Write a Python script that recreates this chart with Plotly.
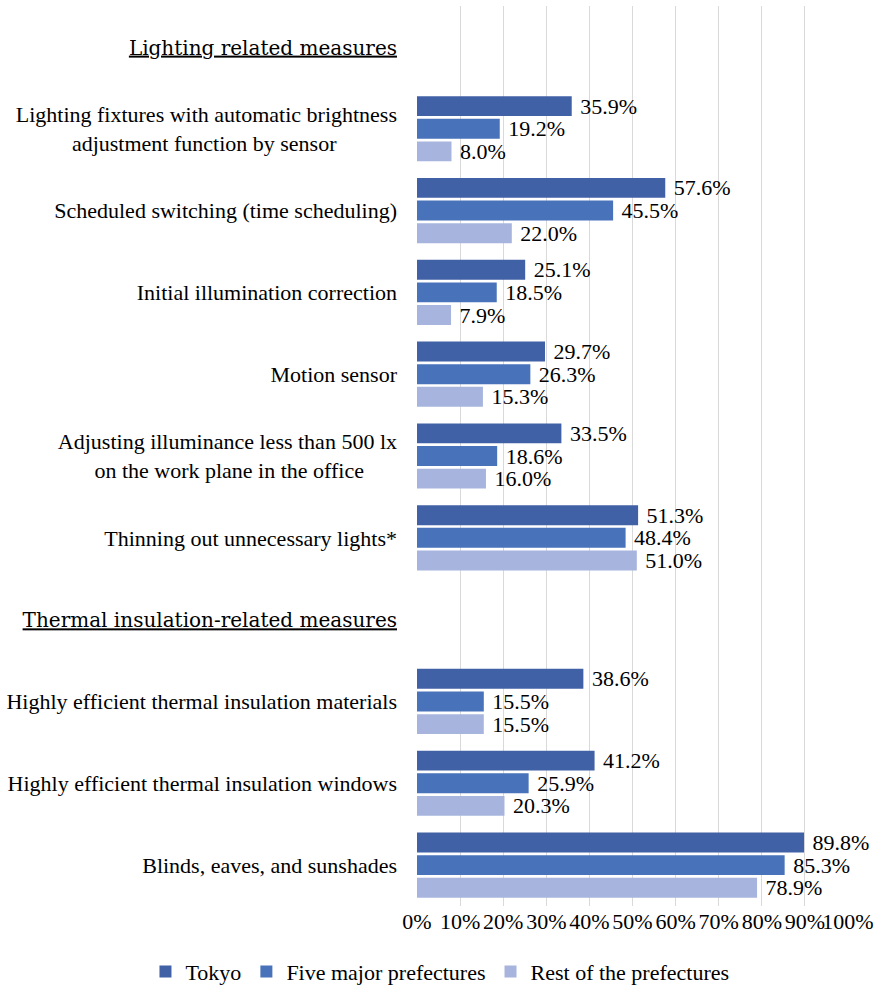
import plotly.graph_objects as go

categories = [
    "Lighting related measures",
    "Lighting fixtures with automatic brightness<br>adjustment function by sensor",
    "Scheduled switching (time scheduling)",
    "Initial illumination correction",
    "Motion sensor",
    "Adjusting illuminance less than 500 lx<br>on the work plane in the office",
    "Thinning out unnecessary lights*",
    "Thermal insulation-related measures",
    "Highly efficient thermal insulation materials",
    "Highly efficient thermal insulation windows",
    "Blinds, eaves, and sunshades",
]
headers = ["Lighting related measures", "Thermal insulation-related measures"]

tokyo = [None, 35.9, 57.6, 25.1, 29.7, 33.5, 51.3, None, 38.6, 41.2, 89.8]
five_major = [None, 19.2, 45.5, 18.5, 26.3, 18.6, 48.4, None, 15.5, 25.9, 85.3]
rest = [None, 8.0, 22.0, 7.9, 15.3, 16.0, 51.0, None, 15.5, 20.3, 78.9]

series_names = ["Tokyo", "Five major prefectures", "Rest of the prefectures"]
series_values = [tokyo, five_major, rest]
colors = ["#4161A6", "#4872B9", "#A7B5DE"]

x_tickvals = [0, 10, 20, 30, 40, 50, 60, 70, 80, 90, 100]
x_ticktext = ["0%", "10%", "20%", "30%", "40%", "50%", "60%", "70%", "80%", "90%", "100%"]

SERIF = "Liberation Serif"
NBSP = "\u00a0"
FS = 22

# second-line shift so wrapped labels look centered (like the original)
second_line_pad = {1: 11, 5: 6}


def fmt_label(i, c):
    if c in headers:
        return ('<span style="font-family:DejaVu Serif;font-size:20px">'
                '<u>' + c + '</u></span>')
    if i in second_line_pad and "<br>" in c:
        a, b = c.split("<br>")
        return a + "<br>" + b + NBSP * second_line_pad[i]
    return c


ticktext = [fmt_label(i, c) for i, c in enumerate(categories)]

fig = go.Figure()
for name, vals, col in zip(series_names, series_values, colors):
    fig.add_trace(go.Bar(
        y=categories,
        x=vals,
        name=name,
        orientation="h",
        marker=dict(color=col, line=dict(width=0)),
        text=[(NBSP + f"{v:.1f}%") if v is not None else "" for v in vals],
        textposition="outside",
        textfont=dict(family=SERIF, size=FS, color="black"),
        constraintext="none",
        cliponaxis=False,
        hoverinfo="skip",
    ))

fig.update_layout(
    width=878,
    height=985,
    barmode="group",
    bargap=0.17,
    bargroupgap=0.12,
    paper_bgcolor="white",
    plot_bgcolor="white",
    margin=dict(l=417, r=30, t=6, b=79, autoexpand=False),
    font=dict(family=SERIF, size=FS, color="black"),
    showlegend=True,
    legend=dict(
        orientation="h",
        x=-0.63, xanchor="left",
        y=-0.0497, yanchor="top",
        font=dict(family=SERIF, size=FS, color="black"),
        traceorder="normal",
    ),
    xaxis=dict(
        range=[0, 100],
        tickvals=x_tickvals,
        ticktext=x_ticktext,
        tickangle=0,
        showgrid=True,
        gridcolor="#D9D9D9",
        gridwidth=1,
        zeroline=False,
        showline=False,
        ticks="",
        tickfont=dict(family=SERIF, size=FS, color="black"),
        automargin=False,
        fixedrange=True,
    ),
    yaxis=dict(
        categoryorder="array",
        categoryarray=categories,
        tickvals=categories,
        ticktext=ticktext,
        autorange="reversed",
        showgrid=False,
        zeroline=False,
        showline=False,
        ticks="",
        ticklabelstandoff=19,
        tickfont=dict(family=SERIF, size=FS, color="black"),
        automargin=False,
        fixedrange=True,
    ),
)

# remove the default 8px page margin so the figure fills the window exactly
fig.write_html(
    "out.html",
    config={"displayModeBar": False},
    post_script="document.body.style.margin='0px';",
)
